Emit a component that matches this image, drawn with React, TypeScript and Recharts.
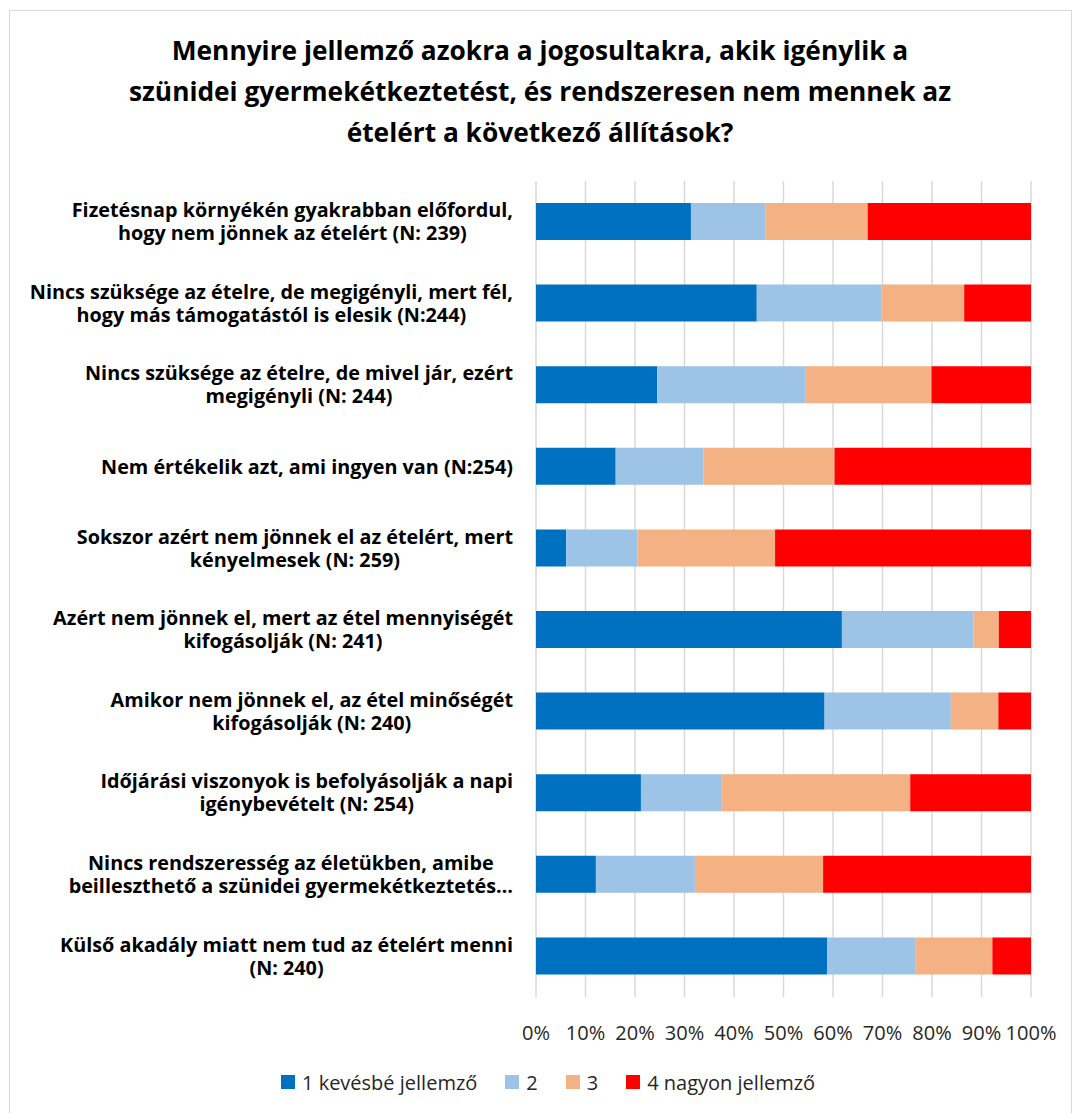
import React from "react";
import { BarChart, Bar, XAxis, YAxis, CartesianGrid, Legend } from "recharts";

// statements, two lines each (one for the short one)
const statements = [
  "Fizetésnap környékén gyakrabban előfordul,\nhogy nem jönnek az ételért (N: 239)",
  "Nincs szüksége az ételre, de megigényli, mert fél,\nhogy más támogatástól is elesik (N:244)",
  "Nincs szüksége az ételre, de mivel jár, ezért\nmegigényli (N: 244)",
  "Nem értékelik azt, ami ingyen van (N:254)",
  "Sokszor azért nem jönnek el az ételért, mert\nkényelmesek (N: 259)",
  "Azért nem jönnek el, mert az étel mennyiségét\nkifogásolják (N: 241)",
  "Amikor nem jönnek el, az étel minőségét\nkifogásolják (N: 240)",
  "Időjárási viszonyok is befolyásolják a napi\nigénybevételt (N: 254)",
  "Nincs rendszeresség az életükben, amibe\nbeilleszthető a szünidei gyermekétkeztetés…",
  "Külső akadály miatt nem tud az ételért menni\n(N: 240)",
];

const level1 = [31.3, 44.6, 24.5, 16.1, 6.1, 61.8, 58.3, 21.2, 12.1, 58.8];
const level2 = [15.0, 25.2, 30.0, 17.7, 14.4, 26.6, 25.5, 16.2, 20.0, 17.8];
const level3 = [20.7, 16.7, 25.4, 26.5, 27.8, 5.1, 9.6, 38.2, 25.9, 15.6];
const level4 = [33.0, 13.5, 20.1, 39.7, 51.7, 6.5, 6.6, 24.4, 42.0, 7.8];

const seriesNames = ["1 kevésbé jellemző", "2", "3", "4 nagyon jellemző"];
const seriesColors = ["#0070C0", "#9DC3E6", "#F4B183", "#FF0000"];

const xTicks = [0, 0.1, 0.2, 0.3, 0.4, 0.5, 0.6, 0.7, 0.8, 0.9, 1];

const titleLines = [
  "Mennyire jellemző azokra a jogosultakra, akik igénylik a",
  "szünidei gyermekétkeztetést, és rendszeresen nem mennek az",
  "ételért a következő állítások?",
];

const data = statements.map((name, i) => ({
  name,
  s1: level1[i],
  s2: level2[i],
  s3: level3[i],
  s4: level4[i],
}));

const FONT = "'Open Sans', Lato, sans-serif";
const LABEL_SIZE = 19.8;
const LABEL_FONT = `bold ${LABEL_SIZE}px 'Open Sans'`;
const LABEL_RIGHT = 513;

let ctx: CanvasRenderingContext2D | null = null;
function textWidth(s: string) {
  if (!ctx) ctx = document.createElement("canvas").getContext("2d");
  if (!ctx) return s.length * 10;
  ctx.font = LABEL_FONT;
  return ctx.measureText(s).width;
}

function StatementTick({ y, payload }: any) {
  const lines = String(payload.value).split("\n");
  const w = Math.max(...lines.map(textWidth));
  const cx = LABEL_RIGHT - w / 2;
  const lh = 23;
  const y0 = y - ((lines.length - 1) * lh) / 2;
  return (
    <text
      x={cx}
      textAnchor="middle"
      fontFamily={FONT}
      fontWeight={700}
      fontSize={LABEL_SIZE}
      fill="#000"
    >
      {lines.map((l, i) => (
        <tspan key={i} x={cx} y={y0 + i * lh} dy="0.35em">
          {l}
        </tspan>
      ))}
    </text>
  );
}

function LegendContent() {
  return (
    <div style={{ display: "flex", alignItems: "center", height: 24, fontFamily: FONT, fontSize: 20, color: "#262626" }}>
      {seriesNames.map((n, i) => (
        <div key={n} style={{ display: "flex", alignItems: "center", marginRight: 28 }}>
          <span style={{ width: 14, height: 14, background: seriesColors[i], marginRight: 7 }} />
          <span>{n}</span>
        </div>
      ))}
    </div>
  );
}

export default function App() {
  return (
    <div style={{ position: "absolute", left: 0, top: 0, width: 1073, height: 1113, background: "#fff" }}>
      <div
        style={{
          position: "absolute",
          left: 9,
          top: 10,
          width: 1061,
          height: 1110,
          borderTop: "1px solid #d9d9d9",
          borderLeft: "1px solid #d9d9d9",
          borderRight: "1px solid #d9d9d9",
        }}
      />
      <div
        style={{
          position: "absolute",
          left: 9,
          top: 30,
          width: 1062,
          textAlign: "center",
          fontFamily: FONT,
          fontWeight: 700,
          fontSize: 26.3,
          lineHeight: "41px",
          color: "#000",
        }}
      >
        {titleLines.map((t) => (
          <div key={t}>{t}</div>
        ))}
      </div>
      <div style={{ position: "absolute", left: 0, top: 0 }}>
        <BarChart
          width={1073}
          height={1113}
          data={data}
          layout="vertical"
          stackOffset="expand"
          barSize={37}
          margin={{ top: 181, right: 42, bottom: 19, left: 0 }}
        >
          <CartesianGrid horizontal={false} stroke="#d9d9d9" strokeWidth={1.5} />
          <XAxis
            type="number"
            domain={[0, 1]}
            ticks={xTicks}
            tickFormatter={(v: number) => `${Math.round(v * 100)}%`}
            axisLine={false}
            tickLine={false}
            tickSize={0}
            tickMargin={29}
            height={73}
            interval={0}
            tick={{ fill: "#262626", fontSize: 20, fontFamily: FONT }}
          />
          <YAxis
            type="category"
            dataKey="name"
            width={536}
            axisLine={false}
            tickLine={false}
            interval={0}
            tick={<StatementTick />}
          />
          <Legend
            verticalAlign="bottom"
            content={<LegendContent />}
            wrapperStyle={{ left: 281, width: "auto" }}
          />
          <Bar dataKey="s1" stackId="a" name={seriesNames[0]} fill={seriesColors[0]} isAnimationActive={false} />
          <Bar dataKey="s2" stackId="a" name={seriesNames[1]} fill={seriesColors[1]} isAnimationActive={false} />
          <Bar dataKey="s3" stackId="a" name={seriesNames[2]} fill={seriesColors[2]} isAnimationActive={false} />
          <Bar dataKey="s4" stackId="a" name={seriesNames[3]} fill={seriesColors[3]} isAnimationActive={false} />
        </BarChart>
      </div>
    </div>
  );
}
